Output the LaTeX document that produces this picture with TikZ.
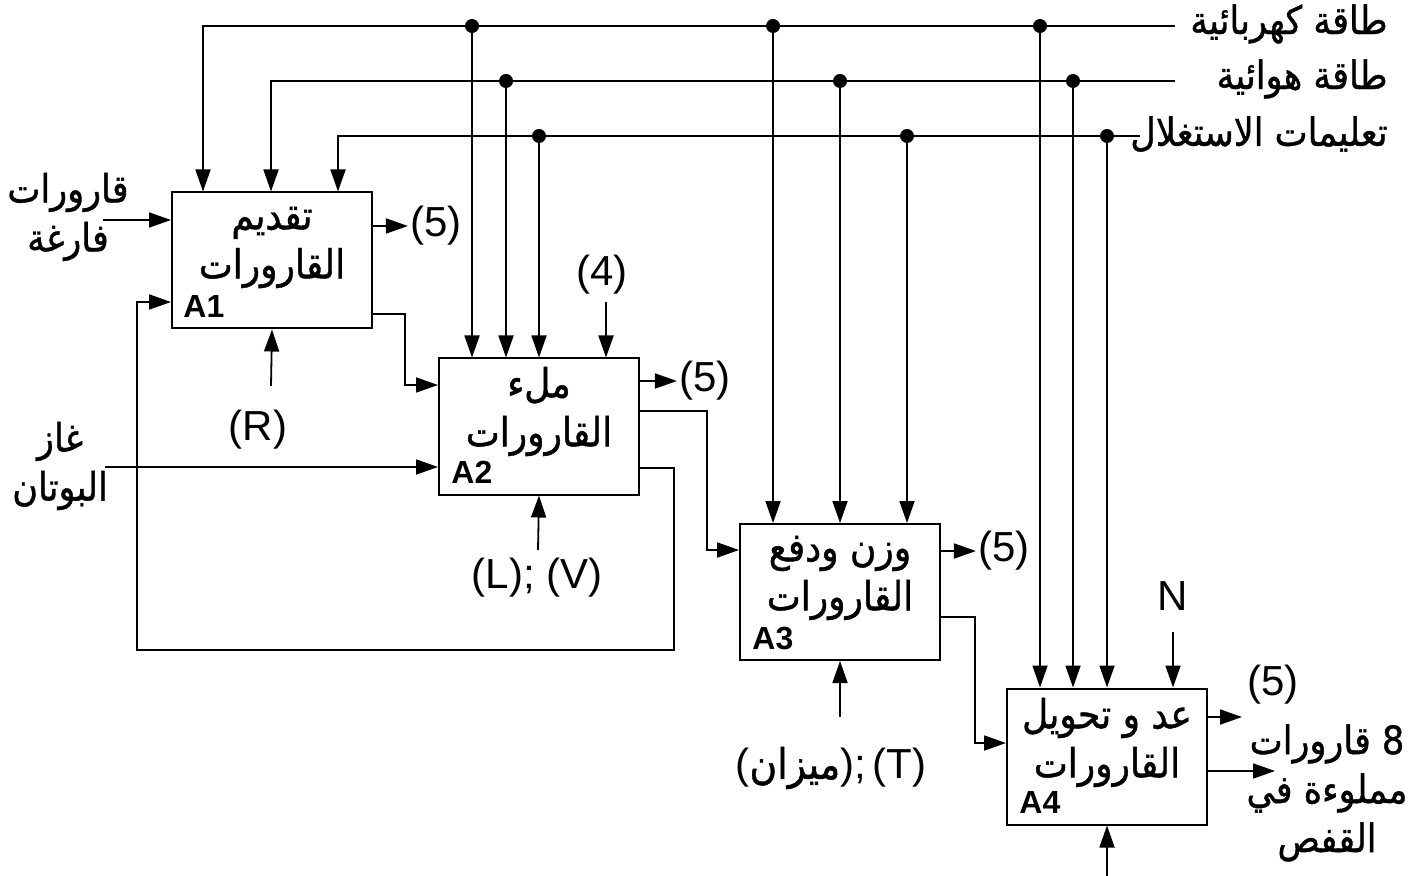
\documentclass[tikz,border=0pt]{standalone}
\usepackage{fontspec}
\setmainfont{Liberation Sans}
\newfontfamily\arabicfont[Script=Arabic, FakeStretch=0.9, FakeBold=1]{DejaVu Sans}
\TeXXeTstate=1
\usetikzlibrary{positioning, arrows.meta, calc}
\newcommand{\arb}[1]{\beginR #1\endR}

\begin{document}
\begin{tikzpicture}[
    x=0.5pt, y=-0.5pt,
    box/.style={draw, line width=1pt, minimum width=100pt, minimum height=68pt, inner sep=0pt},
    ttl/.style={align=center, inner sep=0pt, font=\arabicfont\fontsize{20}{24.5}\selectfont},
    tag/.style={inner sep=0pt, font=\bfseries\fontsize{16}{16}\selectfont},
    lbl/.style={inner sep=1pt, font=\fontsize{21}{24}\selectfont},
    albl/.style={align=center, inner sep=0pt, font=\arabicfont\fontsize{19.5}{24.5}\selectfont},
    dot/.style={circle, fill, inner sep=0pt, minimum size=7pt},
    flow/.style={line width=0.9pt, -{Triangle[length=11pt, width=7.5pt]}}
]
    \useasboundingbox (0,0) rectangle (1422,876);

    % --- activity boxes ---
    \node[box] (a1) at (272,260.5) {};
    \node[box] (a2) at (539,426.5) {};
    \node[box] (a3) at (840,592)   {};
    \node[box] (a4) at (1107,756.5) {};

    \node[ttl] (t1) at ($(a1.center)+(0,-13)$) {\arb{تقديم}\\\arb{القارورات}};
    \node[ttl] (t2) at ($(a2.center)+(0,-15)$) {\arb{ملء}\\\arb{القارورات}};
    \node[ttl] (t3) at ($(a3.center)+(0,-14)$) {\arb{وزن ودفع}\\\arb{القارورات}};
    \node[ttl] (t4) at ($(a4.center)+(0,-14)$) {\arb{عد و تحويل}\\\arb{القارورات}};

    \node[tag, anchor=base west] (g1) at ($(a1.south west)+(12,-12)$) {A1};
    \node[tag, anchor=base west] (g2) at ($(a2.south west)+(13,-12)$) {A2};
    \node[tag, anchor=base west] (g3) at ($(a3.south west)+(13,-12)$) {A3};
    \node[tag, anchor=base west] (g4) at ($(a4.south west)+(13,-12)$) {A4};

    % --- supply lines at the top ---
    \node[albl, anchor=east] (elec)  at (1388,24)  {\arb{طاقة كهربائية}};
    \node[albl, anchor=east] (air)   at (1388,79)  {\arb{طاقة هوائية}};
    \node[albl, anchor=east] (instr) at (1388,134) {\arb{تعليمات الاستغلال}};

    \coordinate (b1) at (1175,26);
    \coordinate (b2) at (1175,81);
    \coordinate (b3) at (1140,136);
    \coordinate (k1) at (203,26);
    \coordinate (k2) at (271,81);
    \coordinate (k3) at (338,136);

    \draw[flow] (b1) -- (k1) -- (k1 |- a1.north);
    \draw[flow] (b2) -- (k2) -- (k2 |- a1.north);
    \draw[flow] (b3) -- (k3) -- (k3 |- a1.north);

    \node[dot] (e1) at (472,26)  {};
    \node[dot] (e2) at (773,26)  {};
    \node[dot] (e3) at (1040,26) {};
    \node[dot] (h1) at (506,81)  {};
    \node[dot] (h2) at (840,81)  {};
    \node[dot] (h3) at (1073,81) {};
    \node[dot] (i1) at (539,136)  {};
    \node[dot] (i2) at (907,136)  {};
    \node[dot] (i3) at (1107,136) {};

    \draw[flow] (e1) -- (e1 |- a2.north);
    \draw[flow] (h1) -- (h1 |- a2.north);
    \draw[flow] (i1) -- (i1 |- a2.north);
    \draw[flow] (e2) -- (e2 |- a3.north);
    \draw[flow] (h2) -- (h2 |- a3.north);
    \draw[flow] (i2) -- (i2 |- a3.north);
    \draw[flow] (e3) -- (e3 |- a4.north);
    \draw[flow] (h3) -- (h3 |- a4.north);
    \draw[flow] (i3) -- (i3 |- a4.north);

    % --- A1 ---
    \node[albl] (empty) at (68,217) {\arb{قارورات}\\\arb{فارغة}};
    \coordinate (s1) at (103,220);
    \draw[flow] (s1) -- (s1 -| a1.west);

    \node[lbl] (o1) at (436,226) {(5)};
    \draw[flow] (a1.east |- o1) -- (o1.west);

    \node[lbl] (r) at (258,430) {(R)};
    \coordinate (c1) at (271,386);
    \draw[flow] (c1) -- (a1.south);

    \coordinate (m1) at (405,350);
    \draw[flow] (a1.east |- 0,314) -| (m1) |- (a2.west |- 0,385);

    % --- A2 ---
    \node[albl] (gas) at (60,466) {\arb{غاز}\\\arb{البوتان}};
    \coordinate (s2) at (105,467);
    \draw[flow] (s2) -- (s2 -| a2.west);

    \node[lbl] (q4) at (602,275) {(4)};
    \coordinate (c4) at (606,302);
    \draw[flow] (c4) -- (c4 |- a2.north);

    \node[lbl] (o2) at (705,381) {(5)};
    \draw[flow] (a2.east |- o2) -- (o2.west);

    \node[lbl] (lv) at (537,578) {(L); (V)};
    \coordinate (c2) at (538,550);
    \draw[flow] (c2) -- (a2.south);

    \coordinate (m2) at (707,480);
    \draw[flow] (a2.east |- 0,411) -| (m2) |- (a3.west |- 0,550);

    % feedback to A1
    \coordinate (f1) at (674,650);
    \coordinate (f2) at (137,650);
    \draw[flow] (a2.east |- 0,468) -| (f1) -- (f2) |- (a1.west |- 0,302);

    % --- A3 ---
    \node[lbl] (o3) at (1004,551) {(5)};
    \draw[flow] (a3.east |- o3) -- (o3.west);

    \node[lbl] (tm) at (831,768) {({\arabicfont\beginR ميزان\endR});\,(T)};
    \coordinate (c3) at (840,717);
    \draw[flow] (c3) -- (a3.south);

    \coordinate (m3) at (975,680);
    \draw[flow] (a3.east |- 0,617) -| (m3) |- (a4.west |- 0,743);

    % --- A4 ---
    \node[lbl] (n) at (1173,596) {N};
    \coordinate (c6) at (1173,632);
    \draw[flow] (c6) -- (c6 |- a4.north);

    \node[lbl] (o4) at (1273,685) {(5)};
    \coordinate (p4) at (1242,717);
    \draw[flow] (a4.east |- p4) -- (p4);

    \node[albl] (full) at (1327,793) {\arb{8 قارورات}\\\arb{مملوءة في}\\\arb{القفص}};
    \coordinate (p5) at (1275,771);
    \draw[flow] (a4.east |- p5) -- (p5);

    \coordinate (c5) at (1107,876);
    \draw[flow] (c5) -- (a4.south);

\end{tikzpicture}
\end{document}
